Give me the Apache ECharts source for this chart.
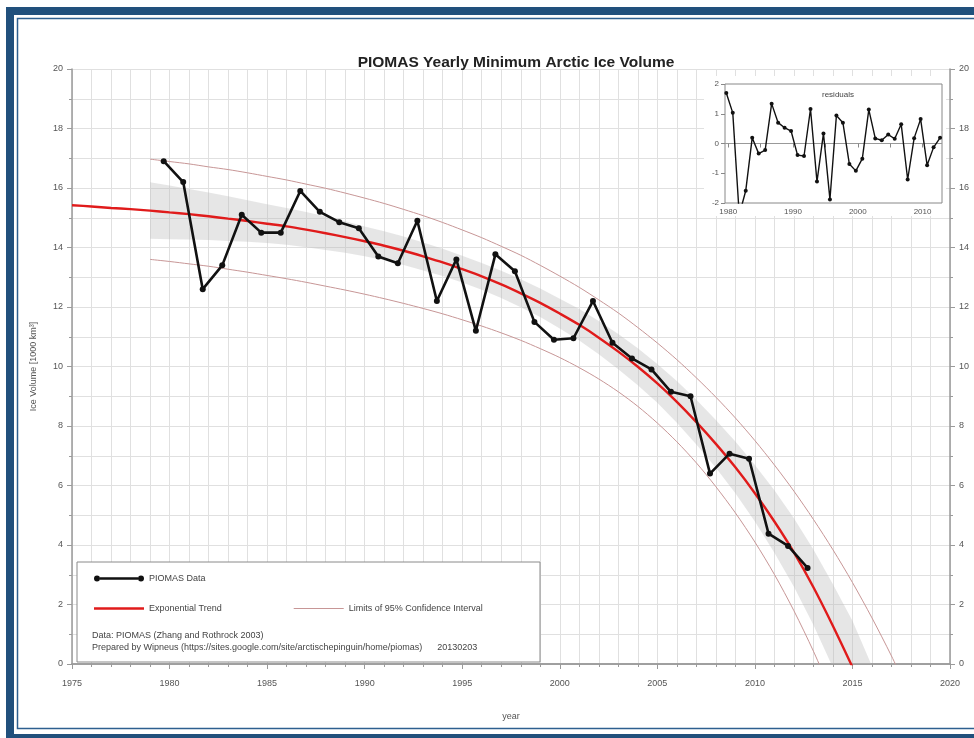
<!DOCTYPE html>
<html lang="en">
<head>
  <meta charset="UTF-8">
  <title>PIOMAS Yearly Minimum Arctic Ice Volume</title>
  <script src="https://cdn.jsdelivr.net/npm/echarts@6/dist/echarts.min.js"></script>
  <style>
    html, body { margin: 0; padding: 0; background: #fff; }
    #chart { width: 974px; height: 738px; }
  </style>
</head>
<body>
  <div id="chart"></div>
  <script>
    // September minimum (mid-September = year + 0.7)
    const volumeYears = [1979.7, 1980.7, 1981.7, 1982.7, 1983.7, 1984.7, 1985.7, 1986.7, 1987.7, 1988.7,
      1989.7, 1990.7, 1991.7, 1992.7, 1993.7, 1994.7, 1995.7, 1996.7, 1997.7, 1998.7,
      1999.7, 2000.7, 2001.7, 2002.7, 2003.7, 2004.7, 2005.7, 2006.7, 2007.7, 2008.7,
      2009.7, 2010.7, 2011.7, 2012.7];
    const volume = [16.9, 16.2, 12.6, 13.4, 15.1, 14.5, 14.5, 15.9, 15.2, 14.85,
      14.65, 13.7, 13.47, 14.9, 12.2, 13.6, 11.2, 13.77, 13.2, 11.5,
      10.9, 10.95, 12.2, 10.8, 10.27, 9.9, 9.15, 9.0, 6.4, 7.07,
      6.9, 4.38, 3.97, 3.23];
    const residuals = [1.70, 1.03, -2.4, -1.59, 0.19, -0.34, -0.22, 1.34, 0.70, 0.53,
      0.42, -0.39, -0.42, 1.16, -1.28, 0.34, -1.88, 0.94, 0.70, -0.69,
      -0.92, -0.51, 1.14, 0.17, 0.11, 0.30, 0.16, 0.65, -1.21, 0.18,
      0.82, -0.73, -0.13, 0.19];

    // exponential trend, 1975..2015
    const trendYears = [1975, 1976, 1977, 1978, 1979, 1980, 1981, 1982, 1983, 1984,
      1985, 1986, 1987, 1988, 1989, 1990, 1991, 1992, 1993, 1994,
      1995, 1996, 1997, 1998, 1999, 2000, 2001, 2002, 2003, 2004,
      2005, 2006, 2007, 2008, 2009, 2010, 2011, 2012, 2013, 2014, 2015];
    const trend = [15.42, 15.38, 15.33, 15.29, 15.24, 15.18, 15.12, 15.05, 14.97, 14.89,
      14.80, 14.71, 14.60, 14.48, 14.35, 14.21, 14.06, 13.89, 13.70, 13.50,
      13.27, 13.03, 12.76, 12.46, 12.14, 11.78, 11.40, 10.97, 10.50, 9.99,
      9.43, 8.81, 8.13, 7.40, 6.61, 5.74, 4.79, 3.75, 2.58, 1.28, -0.10];

    // 95% confidence limits
    const upperYears = [1979, 1980, 1981, 1982, 1983, 1984, 1985, 1986, 1987, 1988,
      1989, 1990, 1991, 1992, 1993, 1994, 1995, 1996, 1997, 1998,
      1999, 2000, 2001, 2002, 2003, 2004, 2005, 2006, 2007, 2008,
      2009, 2010, 2011, 2012, 2013, 2014, 2015, 2016, 2017, 2018];
    const upper = [16.97, 16.89, 16.81, 16.71, 16.62, 16.51, 16.39, 16.27, 16.13, 15.99,
      15.83, 15.66, 15.48, 15.28, 15.07, 14.84, 14.59, 14.33, 14.04, 13.74,
      13.40, 13.04, 12.66, 12.24, 11.80, 11.31, 10.79, 10.23, 9.62, 8.97,
      8.27, 7.51, 6.69, 5.81, 4.86, 3.84, 2.74, 1.55, 0.27, -1.11];
    const lowerYears = [1979, 1980, 1981, 1982, 1983, 1984, 1985, 1986, 1987, 1988,
      1989, 1990, 1991, 1992, 1993, 1994, 1995, 1996, 1997, 1998,
      1999, 2000, 2001, 2002, 2003, 2004, 2005, 2006, 2007, 2008,
      2009, 2010, 2011, 2012, 2013, 2014];
    const lower = [13.60, 13.53, 13.45, 13.37, 13.27, 13.17, 13.06, 12.95, 12.83, 12.70,
      12.57, 12.43, 12.28, 12.12, 11.95, 11.77, 11.57, 11.36, 11.13, 10.88,
      10.60, 10.30, 9.96, 9.58, 9.15, 8.66, 8.10, 7.47, 6.76, 5.96,
      5.08, 4.10, 3.01, 1.79, 0.43, -1.07];

    // grey band around the trend
    const bandYears = [1979, 1980, 1981, 1982, 1983, 1984, 1985, 1986, 1987, 1988,
      1989, 1990, 1991, 1992, 1993, 1994, 1995, 1996, 1997, 1998,
      1999, 2000, 2001, 2002, 2003, 2004, 2005, 2006, 2007, 2008,
      2009, 2010, 2011, 2012, 2013, 2014, 2015, 2016];
    const bandLow = [14.29, 14.28, 14.27, 14.25, 14.22, 14.19, 14.15, 14.09, 14.01, 13.92,
      13.82, 13.71, 13.57, 13.41, 13.23, 13.04, 12.82, 12.58, 12.30, 11.99,
      11.66, 11.28, 10.87, 10.41, 9.91, 9.37, 8.78, 8.11, 7.38, 6.60,
      5.74, 4.79, 3.74, 2.60, 1.31, -0.12, -1.65, -3.47];
    const bandHigh = [16.19, 16.08, 15.97, 15.85, 15.72, 15.59, 15.45, 15.33, 15.19, 15.04,
      14.88, 14.71, 14.55, 14.37, 14.17, 13.96, 13.72, 13.48, 13.22, 12.93,
      12.62, 12.28, 11.93, 11.53, 11.09, 10.61, 10.08, 9.51, 8.88, 8.20,
      7.48, 6.69, 5.84, 4.90, 3.85, 2.68, 1.45, -0.07];

    const yTicks = [0, 2, 4, 6, 8, 10, 12, 14, 16, 18, 20];
    const insetTickYears = [1980, 1985, 1990, 1995, 2000, 2005, 2010];
    const insetLabelYears = [1980, 1990, 2000, 2010];

    const pairs = (xs, ys) => xs.map((x, i) => [x, ys[i]]);
    const plain = v => String(v);

    const FONT = '"Liberation Sans", Arial, sans-serif';
    const gridGrey = '#e0e0e0';
    const axisGrey = '#9a9a9a';
    const labelGrey = '#555';
    const ciColor = '#c79696';

    var myChart = echarts.init(document.getElementById('chart'));

    const mainX = {
      type: 'value', min: 1975, max: 2020, interval: 5,
      axisLine: { lineStyle: { color: axisGrey, width: 1.5 } },
      minorTick: { show: true, splitNumber: 5, length: 3, lineStyle: { color: axisGrey } },
      minorSplitLine: { show: true, lineStyle: { color: gridGrey } },
      splitLine: { show: true, lineStyle: { color: gridGrey } }
    };
    const mainY = {
      type: 'value', min: 0, max: 20, interval: 2,
      axisLine: { show: true, lineStyle: { color: axisGrey, width: 1.5 } },
      axisTick: { show: true, length: 5, lineStyle: { color: axisGrey } },
      minorTick: { show: true, splitNumber: 2, length: 3, lineStyle: { color: axisGrey } },
      minorSplitLine: { show: true, lineStyle: { color: gridGrey } },
      splitLine: { show: true, lineStyle: { color: gridGrey } },
      axisLabel: { fontSize: 9, color: labelGrey, fontFamily: FONT,
        customValues: yTicks, margin: 9, formatter: plain }
    };

    // grey band drawn as one polygon through the axis scales
    function renderBand(params, api) {
      if (params.dataIndex !== 0) return null;
      const pts = [];
      for (let i = 0; i < bandYears.length; i++) pts.push(api.coord([bandYears[i], bandLow[i]]));
      for (let i = bandYears.length - 1; i >= 0; i--) pts.push(api.coord([bandYears[i], bandHigh[i]]));
      return {
        type: 'polygon',
        shape: { points: pts },
        style: { fill: 'rgba(185,185,185,0.36)' },
        silent: true
      };
    }

    var option = {
      animation: false,
      backgroundColor: '#fff',
      textStyle: { fontFamily: FONT },
      title: [{
        text: 'PIOMAS Yearly Minimum Arctic Ice Volume',
        left: 511, top: 50, textAlign: 'center',
        textStyle: { fontSize: 15.5, fontWeight: 'bold', color: '#222', fontFamily: FONT }
      }, {
        text: 'residuals',
        left: 833, top: 86, textAlign: 'center', z: 9,
        textStyle: { fontSize: 8, fontWeight: 'normal', color: '#444', fontFamily: FONT }
      }],
      legend: [{
        data: [{ name: 'PIOMAS Data',
          icon: 'path://M0,3a3,3 0 1,0 6,0a3,3 0 1,0 -6,0z M6,1.8L6,4.2L44,4.2L44,1.8z M44,3a3,3 0 1,0 6,0a3,3 0 1,0 -6,0z' }],
        left: 89, top: 569, itemWidth: 50, itemHeight: 6, selectedMode: false, z: 6,
        textStyle: { fontSize: 9, color: '#444', fontFamily: FONT }
      }, {
        data: [
          { name: 'Exponential Trend', icon: 'path://M0,0L50,0L50,2.4L0,2.4z' },
          { name: 'Limits of 95% Confidence Interval', icon: 'path://M0,0L50,0L50,1L0,1z' }
        ],
        left: 89, top: 599, itemWidth: 50, itemHeight: 6, itemGap: 72, selectedMode: false, z: 6,
        textStyle: { fontSize: 9, color: '#444', fontFamily: FONT }
      }],
      grid: [
        { left: 72, right: 24, top: 69, bottom: 74 },
        { left: 725, right: 32, top: 84, bottom: 535, show: true, z: 5,
          backgroundColor: '#fff', borderColor: '#888', borderWidth: 1 }
      ],
      xAxis: [
        Object.assign({}, mainX, {
          gridIndex: 0, position: 'bottom',
          axisTick: { show: true, length: 5, lineStyle: { color: axisGrey } },
          axisLabel: { fontSize: 9, color: labelGrey, fontFamily: FONT, margin: 15, formatter: plain },
          name: 'year', nameLocation: 'middle', nameGap: 48,
          nameTextStyle: { fontSize: 9, color: labelGrey, fontFamily: FONT }
        }),
        Object.assign({}, mainX, {
          gridIndex: 0, position: 'top',
          axisTick: { show: true, inside: true, length: 5, lineStyle: { color: axisGrey } },
          minorTick: { show: true, splitNumber: 5, length: 3, lineStyle: { color: axisGrey } },
          axisLabel: { show: false }
        }),
        {
          type: 'value', gridIndex: 1, min: 1979.5, max: 2013, z: 6,
          axisLine: { show: false },
          axisTick: { show: true, length: 4, customValues: insetTickYears, lineStyle: { color: '#888' } },
          splitLine: { show: false },
          axisLabel: { fontSize: 8, color: labelGrey, fontFamily: FONT, margin: 5,
            customValues: insetLabelYears, formatter: plain }
        }
      ],
      yAxis: [
        Object.assign({}, mainY, {
          gridIndex: 0, position: 'left',
          name: 'Ice Volume [1000 km³]', nameLocation: 'middle', nameGap: 34, nameRotate: 90,
          nameTextStyle: { fontSize: 9, color: labelGrey, fontFamily: FONT }
        }),
        Object.assign({}, mainY, { gridIndex: 0, position: 'right' }),
        {
          type: 'value', gridIndex: 1, min: -2, max: 2, interval: 1, z: 6,
          axisLine: { show: false },
          axisTick: { show: true, length: 4, lineStyle: { color: '#888' } },
          splitLine: { show: false },
          axisLabel: { fontSize: 8, color: labelGrey, fontFamily: FONT, margin: 6 }
        }
      ],
      graphic: [
        // outer frame
        { type: 'rect', z: 20, silent: true,
          shape: { x: 10, y: 11, width: 1000, height: 727 },
          style: { fill: 'none', stroke: '#21507c', lineWidth: 8 } },
        { type: 'rect', z: 20, silent: true,
          shape: { x: 17.5, y: 18.5, width: 1000, height: 710 },
          style: { fill: 'none', stroke: '#2d5f8f', lineWidth: 1.5 } },
        // white backing behind the inset and its labels
        { type: 'rect', z: 4, silent: true,
          shape: { x: 704, y: 76, width: 242, height: 140 },
          style: { fill: '#fff' } },
        // legend box
        { type: 'rect', z: 4, silent: true,
          shape: { x: 77, y: 562, width: 463, height: 100 },
          style: { fill: '#fff', stroke: '#8a8a8a', lineWidth: 1 } },
        { type: 'text', z: 6, left: 92, top: 631,
          style: { text: 'Data: PIOMAS (Zhang and Rothrock 2003)', fill: '#444', font: '9px ' + FONT } },
        { type: 'text', z: 6, left: 92, top: 643,
          style: { text: 'Prepared by Wipneus (https://sites.google.com/site/arctischepinguin/home/piomas)      20130203',
            fill: '#444', font: '9px ' + FONT } }
      ],
      series: [
        {
          name: 'band', type: 'custom', xAxisIndex: 0, yAxisIndex: 0,
          renderItem: renderBand, clip: true, silent: true,
          encode: { x: 0, y: 1 },
          data: pairs(bandYears, bandLow), z: 1
        },
        {
          name: 'Limits of 95% Confidence Interval', type: 'line', xAxisIndex: 0, yAxisIndex: 0,
          symbol: 'none', smooth: 0.3, color: ciColor,
          lineStyle: { color: ciColor, width: 1 },
          data: pairs(upperYears, upper), z: 2
        },
        {
          name: 'Limits of 95% Confidence Interval', type: 'line', xAxisIndex: 0, yAxisIndex: 0,
          symbol: 'none', smooth: 0.3, color: ciColor,
          lineStyle: { color: ciColor, width: 1 },
          data: pairs(lowerYears, lower), z: 2
        },
        {
          name: 'Exponential Trend', type: 'line', xAxisIndex: 0, yAxisIndex: 0,
          symbol: 'none', smooth: 0.3, color: '#e01b1b',
          lineStyle: { color: '#e01b1b', width: 2.4 },
          data: pairs(trendYears, trend), z: 3
        },
        {
          name: 'PIOMAS Data', type: 'line', xAxisIndex: 0, yAxisIndex: 0,
          symbol: 'circle', symbolSize: 6, color: '#111',
          lineStyle: { color: '#111', width: 2.6 },
          itemStyle: { color: '#111' },
          data: pairs(volumeYears, volume), z: 4
        },
        {
          name: 'residuals', type: 'line', xAxisIndex: 2, yAxisIndex: 2,
          symbol: 'circle', symbolSize: 4, color: '#111',
          lineStyle: { color: '#111', width: 1.4 },
          itemStyle: { color: '#111' },
          data: pairs(volumeYears, residuals), z: 8,
          markLine: {
            silent: true, symbol: 'none', label: { show: false },
            lineStyle: { color: '#999', width: 1, type: 'solid' },
            data: [{ yAxis: 0 }]
          }
        }
      ]
    };

    myChart.setOption(option);
  </script>
</body>
</html>
